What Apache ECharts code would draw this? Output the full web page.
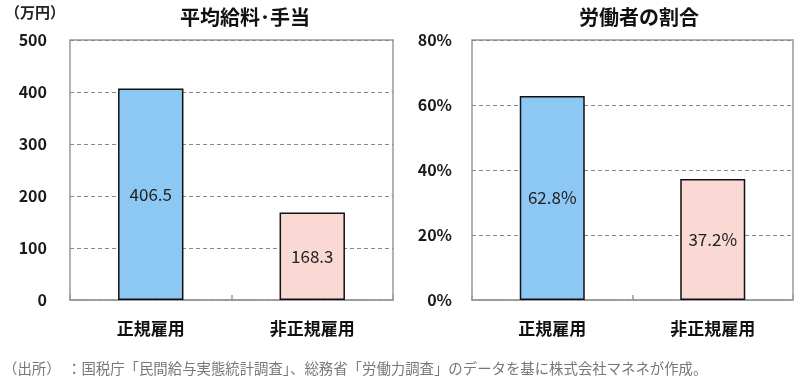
<!DOCTYPE html>
<html><head><meta charset="utf-8">
<script src="https://cdn.jsdelivr.net/npm/echarts@6/dist/echarts.min.js"></script>
<style>html,body{margin:0;padding:0;background:#fff}#c{width:800px;height:387px}</style>
</head><body><div id="c"></div>
<script>
const categories = ['正規雇用', '非正規雇用'];
const salaryValues = [406.5, 168.3];
const shareValues = [62.8, 37.2];
const salaryTicks = { min: 0, max: 500, interval: 100 };
const shareTicks = { min: 0, max: 80, interval: 20 };
const titleLeft = '平均給料･手当';
const titleRight = '労働者の割合';
const unitLabel = '（万円）';
const sourceText = '（出所）  ：国税庁「民間給与実態統計調査」、総務省「労働力調査」のデータを基に株式会社マネネが作成。';
const barColors = ['#8DC7F4', '#FAD8D3'];

const FONT = '"Noto Sans CJK JP", "Noto Sans", sans-serif';
const chart = echarts.init(document.getElementById('c'), null, { renderer: 'canvas' });

function xAxis(gi) {
  return {
    type: 'category', gridIndex: gi, data: categories,
    axisLine: { show: true, lineStyle: { color: '#999', width: 1.5 } },
    axisTick: { show: true, inside: true, length: 5, lineStyle: { color: '#999', width: 1.5 } },
    axisLabel: { margin: 20, fontFamily: FONT, fontSize: 17, fontWeight: 'bold', color: '#111' }
  };
}
function yAxis(gi, t, fmt, margin) {
  return {
    type: 'value', gridIndex: gi, min: t.min, max: t.max, interval: t.interval,
    axisLine: { show: false }, axisTick: { show: false },
    axisLabel: { margin: margin, fontFamily: FONT, fontSize: 16, fontWeight: 'bold', color: '#1a1a1a', formatter: fmt },
    splitLine: { show: true, lineStyle: { color: '#888', type: [4, 3], width: 1 } }
  };
}
function barSeries(gi, vals, fmt) {
  return {
    type: 'bar', xAxisIndex: gi, yAxisIndex: gi, barWidth: '40.5%',
    data: vals.map((v, i) => ({ value: v, itemStyle: { color: barColors[i] } })),
    itemStyle: { borderColor: '#111', borderWidth: 1.5 },
    label: { show: true, position: 'inside', fontFamily: FONT, fontSize: 17, color: '#222', formatter: fmt },
    animation: false
  };
}

chart.setOption({
  animation: false,
  backgroundColor: '#fff',
  title: [
    { text: titleLeft, left: 240, top: 2, textAlign: 'center', textStyle: { fontFamily: FONT, fontSize: 20, fontWeight: 'bold', color: '#111' } },
    { text: titleRight, left: 634, top: 2, textAlign: 'center', textStyle: { fontFamily: FONT, fontSize: 20, fontWeight: 'bold', color: '#111' } }
  ],
  graphic: [
    { type: 'text', left: 5, top: 5, style: { text: unitLabel, font: 'bold 15px ' + FONT, fill: '#222' } },
    { type: 'text', left: 3, top: 361, style: { text: sourceText, font: '14.4px ' + FONT, fill: '#777' } }
  ],
  grid: [
    { left: 70, top: 40, width: 323, height: 260, show: true, borderColor: '#999', borderWidth: 1.5, backgroundColor: '#fff' },
    { left: 472, top: 40, width: 321, height: 260, show: true, borderColor: '#999', borderWidth: 1.5, backgroundColor: '#fff' }
  ],
  xAxis: [xAxis(0), xAxis(1)],
  yAxis: [yAxis(0, salaryTicks, '{value}', 23), yAxis(1, shareTicks, '{value}%', 20)],
  series: [
    barSeries(0, salaryValues, p => p.value.toFixed(1)),
    barSeries(1, shareValues, p => p.value.toFixed(1) + '%')
  ]
});
</script></body></html>
